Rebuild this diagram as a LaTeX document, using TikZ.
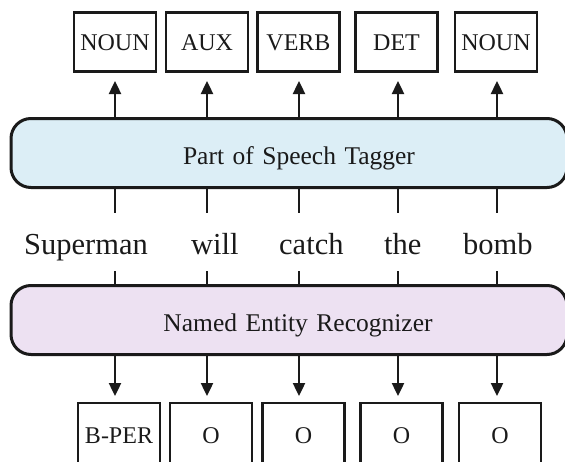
\documentclass[tikz,border=0pt]{standalone}
\usepackage{fontspec}
\setmainfont{Liberation Serif}
\usetikzlibrary{arrows.meta}
\definecolor{posblue}{HTML}{DCEEF6}
\definecolor{nerpurple}{HTML}{EDE1F2}
\definecolor{ink}{HTML}{1A1A1A}
\begin{document}
\begin{tikzpicture}[x=1pt,y=-1pt,
  tagbox/.style={draw=ink,line width=2.8pt,minimum width=82pt,minimum height=59pt,inner sep=0pt,text height=16pt,text depth=0pt,font=\fontsize{24}{27}\selectfont,text=ink},
  bigbox/.style={draw=ink,line width=3pt,rounded corners=20pt,minimum width=556pt,minimum height=69pt,inner sep=0pt,text height=23pt,text depth=0pt,font=\fontsize{25.5}{29}\selectfont,text=ink},
  word/.style={anchor=base west,inner sep=0pt,font=\fontsize{30.5}{34}\selectfont,text=ink},
  arr/.style={draw=ink,line width=2.4pt,-{Triangle[length=13pt,width=12pt]}},
  tick/.style={draw=ink,line width=2.4pt}]
\useasboundingbox (0,0) rectangle (565,461);
\clip (0,0) rectangle (565,461);
% top tags
\node[tagbox] (t1) at (115,42) {NOUN};
\node[tagbox] (t2) at (207,42) {AUX};
\node[tagbox] (t3) at (298.5,42) {VERB};
\node[tagbox] (t4) at (396.5,42) {DET};
\node[tagbox] (t5) at (496,42) {NOUN};
% POS tagger
\node[bigbox,fill=posblue,text width=556pt,align=center] (pos) at (289,153) {\hspace*{20pt}Part of Speech Tagger};
% NER
\node[bigbox,fill=nerpurple,text width=556pt,align=center] (ner) at (289,320) {\hspace*{18pt}Named Entity Recognizer};
% words
\node[word] (w1) at (24,254) {Superman};
\node[word] (w2) at (191,254) {will};
\node[word] (w3) at (279,254) {catch};
\node[word] (w4) at (384,254) {the};
\node[word] (w5) at (463,254) {bomb};
% bottom tags
\node[tagbox,minimum height=64pt] (b1) at (119,435) {B-PER};
\node[tagbox,minimum height=64pt] (b2) at (211,435) {O};
\node[tagbox,minimum height=64pt] (b3) at (303.5,435) {O};
\node[tagbox,minimum height=64pt] (b4) at (401.5,435) {O};
\node[tagbox,minimum height=64pt] (b5) at (500,435) {O};
% connectors
\foreach \i/\x in {1/115,2/207,3/299,4/398,5/497}{
  \coordinate (ua\i) at (\x,118);
  \coordinate (ut\i) at (\x,81);
  \draw[arr] (ua\i) -- (ut\i);
  \coordinate (ta\i) at (\x,188);
  \coordinate (tb\i) at (\x,213);
  \draw[tick] (ta\i) -- (tb\i);
  \coordinate (tc\i) at (\x,271);
  \coordinate (td\i) at (\x,285);
  \draw[tick] (tc\i) -- (td\i);
  \coordinate (da\i) at (\x,355);
  \coordinate (dt\i) at (\x,396);
  \draw[arr] (da\i) -- (dt\i);
}
\end{tikzpicture}
\end{document}
